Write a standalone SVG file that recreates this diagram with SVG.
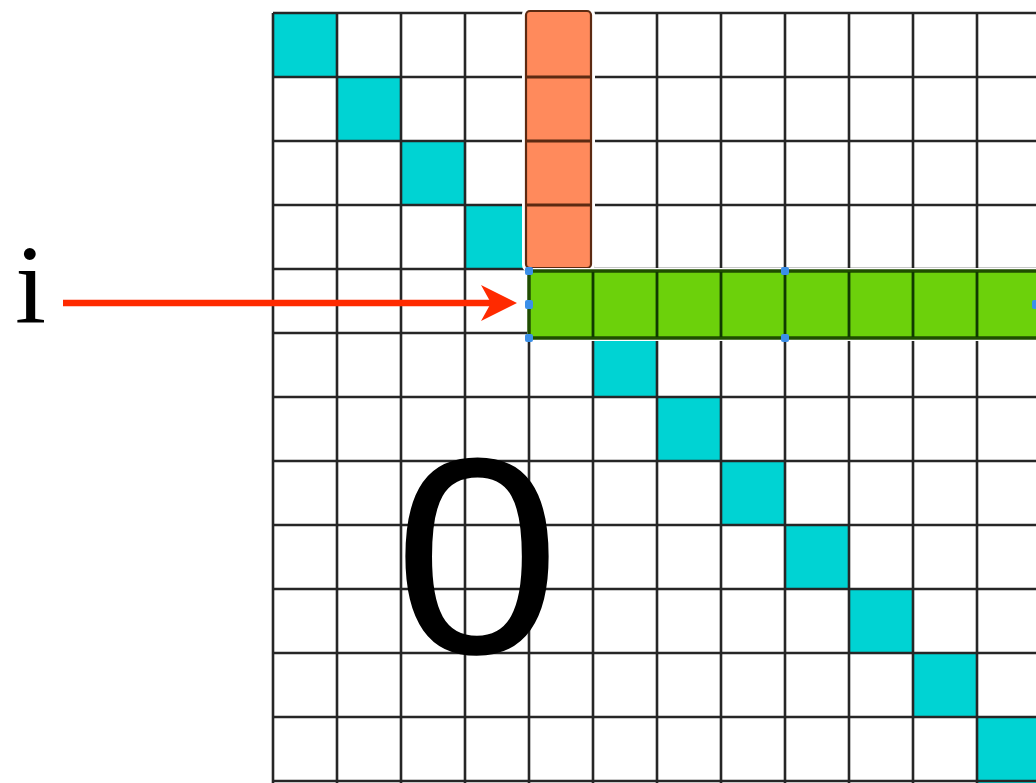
<svg xmlns="http://www.w3.org/2000/svg" width="1036" height="783" viewBox="0 0 1036 783">
<style>
.cyan{fill:#00d3d3}
.grid line{stroke:#262626;stroke-width:2.6}
.orange{fill:#ff8a5c;stroke:#5c2a12;stroke-width:2.2}
.odiv{stroke:#5c2a12;stroke-width:2.8}
.green{fill:#6cd10b;stroke:#1f4d00;stroke-width:3.5}
.gdiv{stroke:#103a00;stroke-width:2.8}
.handle{fill:#3b8fe8}
.lbl{font-family:"Liberation Serif","Times New Roman",serif;fill:#000}
.zero{font-family:"Liberation Sans",Arial,sans-serif;fill:#000}
</style>
<rect width="1036" height="783" fill="#ffffff"/>
<g id="diagonal">
<rect class="cyan" x="273" y="13" width="64" height="64"/>
<rect class="cyan" x="337" y="77" width="64" height="64"/>
<rect class="cyan" x="401" y="141" width="64" height="64"/>
<rect class="cyan" x="465" y="205" width="64" height="64"/>
<rect class="cyan" x="593" y="333" width="64" height="64"/>
<rect class="cyan" x="657" y="397" width="64" height="64"/>
<rect class="cyan" x="721" y="461" width="64" height="64"/>
<rect class="cyan" x="785" y="525" width="64" height="64"/>
<rect class="cyan" x="849" y="589" width="64" height="64"/>
<rect class="cyan" x="913" y="653" width="64" height="64"/>
<rect class="cyan" x="977" y="717" width="64" height="66"/>
</g>
<g id="grid" class="grid">
<line x1="273" y1="13" x2="273" y2="783"/>
<line x1="337" y1="13" x2="337" y2="783"/>
<line x1="401" y1="13" x2="401" y2="783"/>
<line x1="465" y1="13" x2="465" y2="783"/>
<line x1="529" y1="13" x2="529" y2="783"/>
<line x1="593" y1="13" x2="593" y2="783"/>
<line x1="657" y1="13" x2="657" y2="783"/>
<line x1="721" y1="13" x2="721" y2="783"/>
<line x1="785" y1="13" x2="785" y2="783"/>
<line x1="849" y1="13" x2="849" y2="783"/>
<line x1="913" y1="13" x2="913" y2="783"/>
<line x1="977" y1="13" x2="977" y2="783"/>
<line x1="273" y1="13" x2="1036" y2="13"/>
<line x1="273" y1="77" x2="1036" y2="77"/>
<line x1="273" y1="141" x2="1036" y2="141"/>
<line x1="273" y1="205" x2="1036" y2="205"/>
<line x1="273" y1="269" x2="1036" y2="269"/>
<line x1="273" y1="333" x2="1036" y2="333"/>
<line x1="273" y1="397" x2="1036" y2="397"/>
<line x1="273" y1="461" x2="1036" y2="461"/>
<line x1="273" y1="525" x2="1036" y2="525"/>
<line x1="273" y1="589" x2="1036" y2="589"/>
<line x1="273" y1="653" x2="1036" y2="653"/>
<line x1="273" y1="717" x2="1036" y2="717"/>
<line x1="273" y1="781" x2="1036" y2="781"/>
</g>
<g id="column">
<rect x="525" y="10" width="67" height="259" rx="4" fill="none" stroke="#ffffff" stroke-width="6"/>
<rect class="orange" x="526" y="11" width="65" height="257" rx="4"/>
<line class="odiv" x1="527" y1="77" x2="590" y2="77"/>
<line class="odiv" x1="527" y1="141" x2="590" y2="141"/>
<line class="odiv" x1="527" y1="205" x2="590" y2="205"/>
</g>
<g id="row">
<rect x="527" y="268" width="515" height="73" fill="#ffffff"/>
<rect class="green" x="529" y="271" width="510" height="67"/>
<line class="gdiv" x1="593" y1="272" x2="593" y2="337"/>
<line class="gdiv" x1="657" y1="272" x2="657" y2="337"/>
<line class="gdiv" x1="721" y1="272" x2="721" y2="337"/>
<line class="gdiv" x1="785" y1="272" x2="785" y2="337"/>
<line class="gdiv" x1="849" y1="272" x2="849" y2="337"/>
<line class="gdiv" x1="913" y1="272" x2="913" y2="337"/>
<line class="gdiv" x1="977" y1="272" x2="977" y2="337"/>
<rect class="handle" x="525" y="267" width="8" height="8" rx="2"/>
<rect class="handle" x="525" y="300" width="8" height="9" rx="2"/>
<rect class="handle" x="525" y="334" width="8" height="8" rx="2"/>
<rect class="handle" x="781" y="267" width="8" height="8" rx="2"/>
<rect class="handle" x="781" y="334" width="8" height="8" rx="2"/>
<rect class="handle" x="1032" y="300" width="6" height="9" rx="2"/>
</g>
<g id="zero-label">
<text class="zero" transform="translate(477,653) scale(1.07,1)" text-anchor="middle" font-size="280">0</text>
</g>
<g id="i-label">
<text class="lbl" x="15" y="323" font-size="112">i</text>
</g>
<g id="connectors">
<line x1="63" y1="303" x2="492" y2="303" stroke="#ff2a00" stroke-width="6.5"/>
<polygon points="517,303 481,285 491,303 481,321" fill="#ff2a00"/>
</g>
</svg>
